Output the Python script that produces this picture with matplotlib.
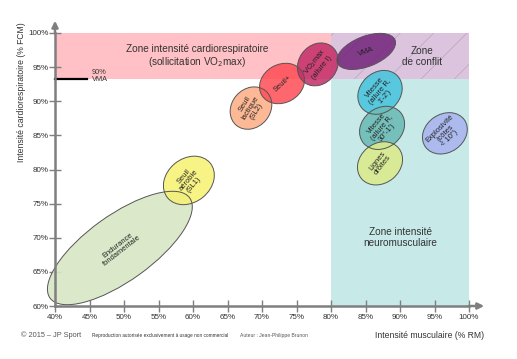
import matplotlib
matplotlib.use("Agg")
import matplotlib.pyplot as plt
from matplotlib.patches import Ellipse, Rectangle

plt.rcParams["font.family"] = ["Liberation Sans", "DejaVu Sans"]
plt.rcParams["hatch.linewidth"] = 0.5

# axis values
X_TICKS = [40, 45, 50, 55, 60, 65, 70, 75, 80, 85, 90, 95, 100]
Y_TICKS = [60, 65, 70, 75, 80, 85, 90, 95, 100]
VMA90 = 93.3  # 90% VMA level (% FCM)

# zones: x range (% RM) and y range (% FCM)
ZONE_CARDIO = (40, 80, VMA90, 100)
ZONE_CONFLIT = (80, 100, VMA90, 100)
ZONE_NEURO = (80, 100, 60, VMA90)

# training areas (ellipses)
LABELS = ["Endurance\nfondamentale", "Seuil\naérobie\n(SL1)", "Seuil\nlactique\n(SL2)",
          "Seuil+", "VO$_2$max\n(allure I)", "VMA", "Vitesse\n(allure R,\n1'-2')",
          "Vitesse\n(allure R,\n30''-1')", "Lignes\ndroites", "Explosivité\n(côtes\n< 10'')"]
CX = [49.4, 59.4, 68.4, 72.9, 78.1, 85.1, 87.1, 87.4, 87.1, 96.5]
CY = [68.5, 78.4, 89.0, 92.6, 95.4, 97.3, 91.3, 86.1, 80.9, 85.3]
WIDTHS = [25.0, 8.0, 6.6, 6.8, 6.6, 9.0, 7.0, 7.0, 7.0, 6.9]
HEIGHTS = [9.6, 6.4, 5.6, 5.6, 5.6, 4.4, 5.8, 5.8, 5.8, 5.6]
ANGLES = [36, 40, 50, 30, 55, 22, 45, 40, 40, 35]
TEXT_ROT = [38, 50, 58, 42, 52, 20, 50, 50, 52, 45]
COLORS = ["#d8e7c5", "#f6f170", "#fdb28a", "#ff4c55", "#c42c66", "#73237a",
          "#4cc5dd", "#6cbcb6", "#dbea8c", "#a9b5ef"]
ALPHAS = [0.9, 0.85, 0.9, 0.85, 0.85, 0.85, 0.9, 0.9, 0.9, 0.9]

GRAY = "#7f7f7f"
INK = "#333333"

fig = plt.figure(figsize=(5.17, 3.59), dpi=100)
ax = fig.add_axes([0.1064, 0.1476, 0.8008, 0.7605])
ax.set_xlim(40, 100)
ax.set_ylim(60, 100)

for (x0, x1, y0, y1), fc, hatch in [(ZONE_CARDIO, "#ffc1c5", None),
                                   (ZONE_CONFLIT, "#dcc3de", "/"),
                                   (ZONE_NEURO, "#c7eae9", None)]:
    ax.add_patch(Rectangle((x0, y0), x1 - x0, y1 - y0, facecolor=fc,
                           edgecolor="#b9a6bb" if hatch else "none", lw=0,
                           hatch=hatch, zorder=0))

ax.text(60.6, 96.6, "Zone intensité cardiorespiratoire\n(sollicitation VO$_2$max)",
        ha="center", va="center", fontsize=7.2, color=INK, linespacing=1.1)
ax.text(93.2, 96.6, "Zone\nde conflit", ha="center", va="center",
        fontsize=7.2, color=INK, linespacing=1.1)
ax.text(90.0, 70.0, "Zone intensité\nneuromusculaire", ha="center", va="center",
        fontsize=7.2, color=INK, linespacing=1.1)

for lab, x, y, w, h, a, tr, c, al in zip(LABELS, CX, CY, WIDTHS, HEIGHTS, ANGLES,
                                         TEXT_ROT, COLORS, ALPHAS):
    ax.add_patch(Ellipse((x, y), w, h, angle=a, facecolor=c, alpha=al,
                         edgecolor="none", zorder=2, clip_on=False))
    ax.add_patch(Ellipse((x, y), w, h, angle=a, facecolor="none",
                         edgecolor="#555555", lw=0.7, zorder=3, clip_on=False))
    ax.text(x, y, lab, ha="center", va="center", rotation=tr, fontsize=5.4,
            color="#222222", linespacing=0.95, zorder=4, rotation_mode="anchor")

# 90% VMA marker
ax.plot([40, 44.6], [VMA90, VMA90], color="black", lw=1.6, clip_on=False, zorder=5)
ax.text(45.3, VMA90 + 0.4, "90%\nVMA", ha="left", va="center", fontsize=5.3,
        color=INK, linespacing=1.0)

# axes with arrows
for s in ["top", "right"]:
    ax.spines[s].set_visible(False)
for s in ["left", "bottom"]:
    ax.spines[s].set_color(GRAY)
    ax.spines[s].set_linewidth(1.8)
    ax.spines[s].set_zorder(6)
ax.annotate("", xy=(102.6, 60), xytext=(99.5, 60),
            arrowprops=dict(arrowstyle="-|>", color=GRAY, lw=1.8, mutation_scale=9),
            annotation_clip=False)
ax.annotate("", xy=(40, 102.2), xytext=(40, 99.5),
            arrowprops=dict(arrowstyle="-|>", color=GRAY, lw=1.8, mutation_scale=9),
            annotation_clip=False)

ax.set_xticks(X_TICKS)
ax.set_xticklabels([f"{v}%" for v in X_TICKS])
ax.set_yticks(Y_TICKS)
ax.set_yticklabels([f"{v}%" for v in Y_TICKS])
ax.tick_params(direction="inout", length=8, width=1, color=GRAY,
               labelsize=5.8, labelcolor=INK)
ax.tick_params(axis="x", pad=2)
ax.tick_params(axis="y", pad=0.5)

fig.text(22 / 517, 1 - 92 / 359, "Intensité cardiorespiratoire (% FCM)", rotation=90,
         ha="center", va="center", fontsize=6.2, color=INK)
fig.text(484 / 517, 1 - 335 / 359, "Intensité musculaire (% RM)", ha="right",
         va="center", fontsize=6.2, color=INK)
fig.text(21 / 517, 1 - 335 / 359, "© 2015 – JP Sport", ha="left", va="center",
         fontsize=5.3, color="#555555")
fig.text(92 / 517, 1 - 336 / 359,
         "Reproduction autorisée exclusivement à usage non commercial",
         ha="left", va="center", fontsize=3.4, color=INK)
fig.text(240 / 517, 1 - 336 / 359, "Auteur : Jean-Philippe Brunon", ha="left",
         va="center", fontsize=3.6, color="#555555")

fig.savefig("out.png", dpi=100, facecolor="white")
